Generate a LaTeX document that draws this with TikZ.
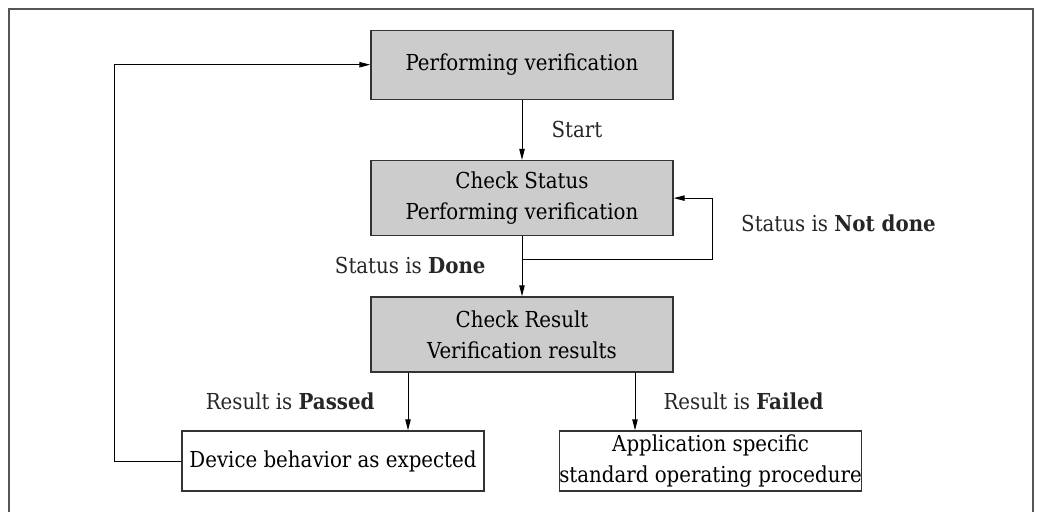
\documentclass[tikz,border=0pt]{standalone}
\usepackage{fontspec}
\setmainfont{DejaVu Serif Condensed}
\usetikzlibrary{matrix,arrows.meta,positioning}

\definecolor{boxgrey}{HTML}{CCCCCC}
\definecolor{framegrey}{HTML}{555555}

\tikzset{
  stepgrey/.style={draw=black!80, line width=0.7pt, fill=boxgrey, minimum width=151pt,
    minimum height=34.5pt, align=center, inner sep=0pt},
  stepwhite/.style={draw=black!80, line width=0.7pt, fill=white, minimum width=151pt,
    minimum height=30pt, align=center, inner sep=0pt},
  steplabel/.style={inner sep=0pt, text=black!85}
}

\begin{document}
\begin{tikzpicture}[x=0.5pt, y=-0.5pt, font=\fontsize{11pt}{15.5pt}\selectfont,
    >={Triangle[length=5.5pt,width=2.7pt]}, line width=0.5pt]
  \useasboundingbox (0,0) rectangle (1037,511);
  \draw[framegrey, line width=0.8pt] (9,530) -- (9,9) -- (1033,9) -- (1033,530);

  \matrix (m) [row sep=30pt, inner sep=0pt, anchor=north] at (522,29)
  {
\node[stepgrey] (verify) {Performing verification}; \\
\node[stepgrey, minimum height=37.5pt] (status) {Check Status\\Performing verification}; \\
\node[stepgrey, minimum height=37.5pt] (result) {Check Result\\Verification results}; \\
};

  \node[stepwhite] (dev) at (333,461) {Device behavior as expected};
  \node[stepwhite] (app) at (710.5,461) {Application specific\\standard operating procedure};
  \coordinate (split) at (522,259);
  \coordinate (pass) at ([xshift=-57pt]result.south);
  \coordinate (fail) at ([xshift=56.5pt]result.south);

  \path[->]
 (verify) edge node [steplabel, right=14.5pt] {Start} (status)
 (status) edge node [steplabel, left=18pt, yshift=0.5pt] {Status is \textbf{Done}} (result)
 (pass) edge node [steplabel, left=16.5pt] {Result is \textbf{Passed}} (pass |- dev.north)
 (fail) edge node [steplabel, right=14pt] {Result is \textbf{Failed}} (fail |- app.north)
;
  \draw[->] (split) -| ([xshift=19.5pt]status.east) node [steplabel, pos=0.75, right=14pt, yshift=2.5pt] {Status is \textbf{Not done}} -- (status.east);
  \draw[->] (dev.west) -- ++(-33.5pt,0) |- (verify.west);
\end{tikzpicture}
\end{document}
